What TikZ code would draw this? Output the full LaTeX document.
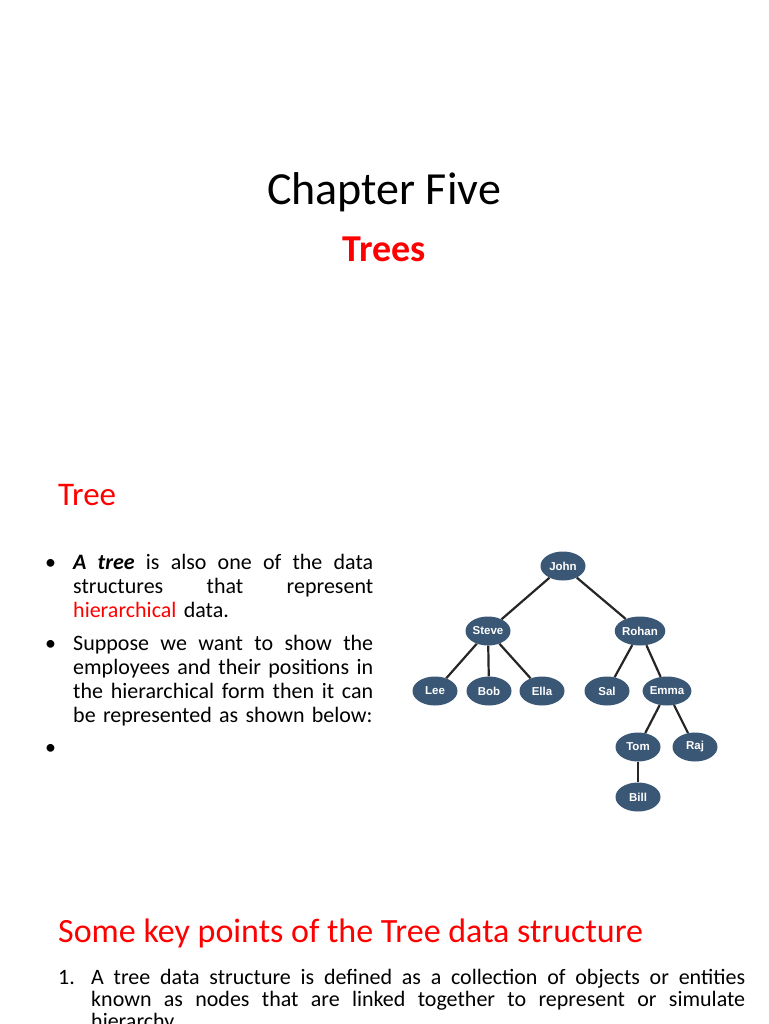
\documentclass[tikz,border=0pt]{standalone}
\usepackage{fontspec}
\setmainfont{Carlito}
\newfontfamily\treefont{Liberation Sans}
\usepackage{xcolor}
\usetikzlibrary{positioning,shapes.geometric}
\definecolor{slideRed}{HTML}{FF0000}
\definecolor{treeBlue}{HTML}{3A5775}
\newcommand{\jline}[2]{\leavevmode\hbox to #1{\spaceskip=0.22em plus 1fil\relax #2}}

\begin{document}
\begin{tikzpicture}[x=1pt, y=-1pt,
    chapter/.style={anchor=base, inner sep=0pt, font=\fontsize{46}{55}\selectfont},
    redtitle/.style={anchor=base, inner sep=0pt, text=slideRed, font=\bfseries\fontsize{38}{45}\selectfont},
    heading/.style={anchor=base west, inner sep=0pt, text=slideRed, font=\fontsize{33}{40}\selectfont},
    para/.style={anchor=base west, inner sep=0pt, text width=300pt, align=left, font=\fontsize{22}{24}\selectfont},
    bul/.style={anchor=base west, inner sep=0pt, font=\fontsize{22}{24}\selectfont},
    person/.style={ellipse, fill=treeBlue, text=white, inner sep=0pt, minimum width=45pt, minimum height=29pt, font=\treefont\bfseries\fontsize{11.5}{13}\selectfont},
    edge/.style={line width=2.2pt, draw=black!85}
]
\useasboundingbox[fill=white] (0,0) rectangle (768,1024);
% Titles
\node[chapter] (chap) at (384,205) {Chapter Five};
\node[redtitle] (trees) at (384,261) {Trees};
\node[heading] (treehead) at (58,505) {Tree};
% Bullets
\node[bul] (b1) at (45,569) {•};
\node[para] (p1) at (73,569) {\jline{300pt}{\textbf{\textit{A tree}} is also one of the data}\\
  \jline{300pt}{structures that represent}\\
  \textcolor{slideRed}{hierarchical} data.};
\node[bul] (b2) at (45,650) {•};
\node[para] (p2) at (73,650) {\jline{300pt}{Suppose we want to show the}\\
  \jline{300pt}{employees and their positions in}\\
  \jline{300pt}{the hierarchical form then it can}\\
  be represented as shown below:};
\node[bul] (b3) at (45,754) {•};
% Tree nodes
\node[person] (john) at (563,566) {John};
\node[person] (steve) at (488,631) {Steve};
\node[person] (rohan) at (640,631) {Rohan};
\node[person] (lee) at (435,691) {Lee};
\node[person] (bob) at (489,691) {Bob};
\node[person] (ella) at (542,691) {Ella};
\node[person] (sal) at (607,691) {Sal};
\node[person] (emma) at (667,691) {Emma};
\node[person] (tom) at (638,747) {Tom};
\node[person] (raj) at (695,747) {Raj};
\node[person] (bill) at (638,797) {Bill};
% Edges
\draw[edge] (john) -- (steve);
\draw[edge] (john) -- (rohan);
\draw[edge] (steve) -- (lee);
\draw[edge] (steve) -- (bob);
\draw[edge] (steve) -- (ella);
\draw[edge] (rohan) -- (sal);
\draw[edge] (rohan) -- (emma);
\draw[edge] (emma) -- (tom);
\draw[edge] (emma) -- (raj);
\draw[edge] (tom) -- (bill);
% Key points
\node[heading, font=\fontsize{34}{41}\selectfont] (keyhead) at (58,942) {Some key points of the Tree data structure};
\node[bul] (n1) at (58,984) {1.};
\node[para, text width=654pt, font=\fontsize{22}{22}\selectfont] (l1) at (91,984) {\jline{654pt}{A tree data structure is defined as a collection of objects or entities}\\
  \jline{654pt}{known as nodes that are linked together to represent or simulate}\\
  hierarchy.};
\end{tikzpicture}
\end{document}
